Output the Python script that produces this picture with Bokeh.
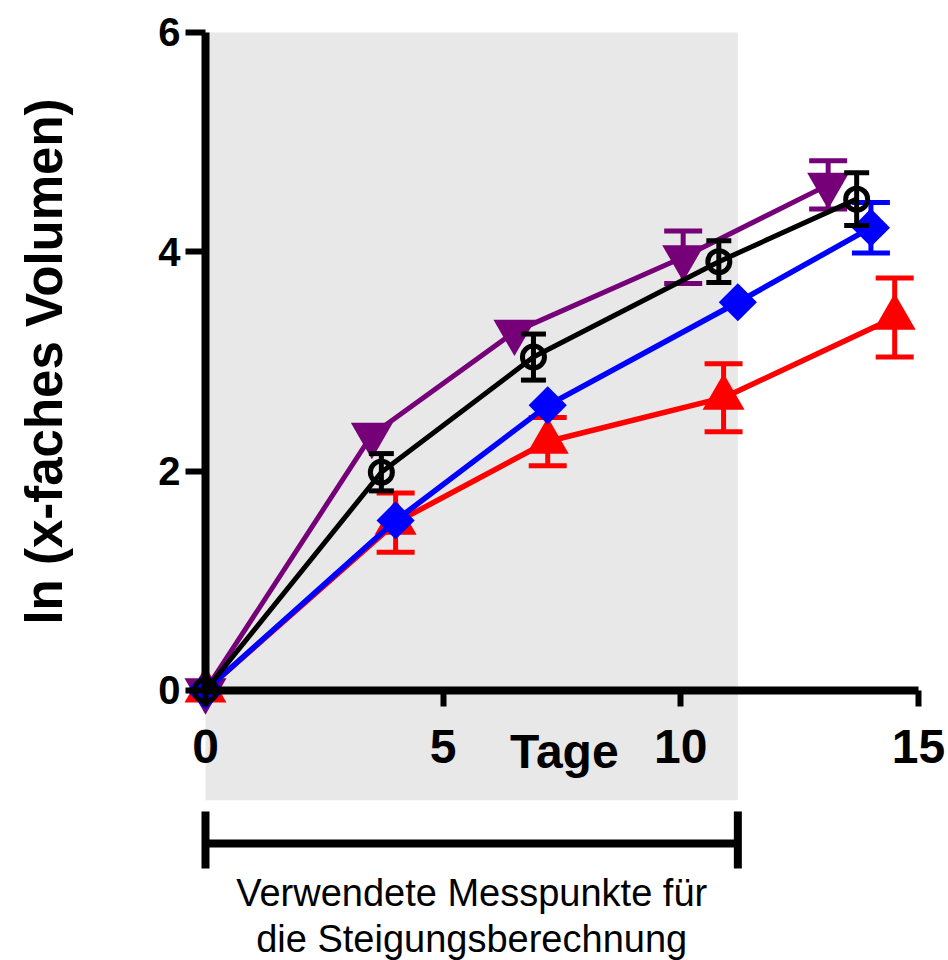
import math
from bokeh.plotting import figure
from bokeh.models import Range1d
from bokeh.embed import file_html
from bokeh.resources import INLINE
from bokeh.core.properties import value

# ---- data ----
days_red = [0, 4.0, 7.2, 10.9, 14.5]
lnvol_red = [0, 1.53, 2.27, 2.67, 3.40]
sem_red = [0, 0.27, 0.22, 0.31, 0.36]

days_purple = [0, 3.5, 6.5, 10.05, 13.1]
lnvol_purple = [0, 2.33, 3.27, 3.95, 4.61]
sem_purple = [0, 0, 0, 0.24, 0.22]

days_blue = [0, 4.0, 7.2, 11.2, 14.0]
lnvol_blue = [0, 1.55, 2.60, 3.54, 4.22]
sem_blue = [0, 0, 0, 0, 0.23]

days_black = [0, 3.7, 6.9, 10.8, 13.7]
lnvol_black = [0, 1.99, 3.04, 3.91, 4.48]
sem_black = [0, 0.17, 0.21, 0.19, 0.24]

fit_window = [0, 11.2]          # days used for the slope calculation
x_ticks = [0, 5, 10, 15]
y_ticks = [0, 2, 4, 6]
x_label = "Tage"
y_label = "ln (x-faches Volumen)"
note_lines = ["Verwendete Messpunkte für", "die Steigungsberechnung"]

FONT = "Liberation Sans"

p = figure(frame_width=946, frame_height=950,
           x_range=Range1d(-4.313, 15.59), y_range=Range1d(-2.462, 6.2),
           output_backend="svg", toolbar_location=None,
           min_border_left=0, min_border_right=2,
           min_border_top=10, min_border_bottom=0)
p.outline_line_color = None
p.xgrid.visible = False
p.ygrid.visible = False
p.background_fill_color = "white"
p.border_fill_color = "white"

# shaded window of the fit
p.quad(left=[fit_window[0]], right=[fit_window[1]], bottom=[-1.0], top=[6.0],
       fill_color="#e8e8e8", line_color=None)

# axes through the origin
for ax, bnds, ticks in ((p.xaxis[0], (0, 15), x_ticks), (p.yaxis[0], (0, 6), y_ticks)):
    ax.fixed_location = 0
    ax.bounds = bnds
    ax.ticker = ticks
    ax.axis_line_width = 8
    ax.axis_line_color = "black"
    ax.major_tick_line_width = 6
    ax.major_tick_line_color = "black"
    ax.major_tick_in = 0
    ax.minor_tick_line_color = None
    ax.major_label_text_font = FONT
    ax.major_label_text_font_style = "bold"
    ax.major_label_text_color = "black"

p.xaxis.major_tick_out = 16
p.xaxis.major_label_text_font_size = "48px"
p.xaxis.major_label_standoff = 24
p.yaxis.major_tick_out = 20
p.yaxis.major_label_text_font_size = "40px"
p.yaxis.major_label_standoff = 5
p.yaxis.axis_label = y_label
p.yaxis.axis_label_text_font = FONT
p.yaxis.axis_label_text_font_style = "bold"
p.yaxis.axis_label_text_font_size = "51px"
p.yaxis.axis_label_text_color = "black"
p.yaxis.axis_label_standoff = 82

# x axis title placed in the tick-label row
p.text(x=[7.55], y=[-0.56], text=[x_label], text_font=value(FONT),
       text_font_style="bold", text_font_size="48px", text_align="center",
       text_baseline="alphabetic", text_color="black")

# bracket marking the fit window
p.segment(x0=[fit_window[0]], y0=[-1.395], x1=[fit_window[1]], y1=[-1.395],
          line_width=8, line_color="black")
p.segment(x0=fit_window, y0=[-1.103, -1.103], x1=fit_window, y1=[-1.623, -1.623],
          line_width=8, line_color="black")
cx = (fit_window[0] + fit_window[1]) / 2
p.text(x=[cx, cx], y=[-1.85, -2.27], text=note_lines, text_font=value(FONT),
       text_font_size="38px", text_align="center", text_baseline="alphabetic",
       text_color="black")


def series(xs, ys, errs, color, marker, size, cap, fill=True, angle=0.0, lw=5.5):
    p.line(xs, ys, line_width=lw, line_color=color)
    ex = [x for x, e in zip(xs, errs) if e > 0]
    lo = [y - e for y, e in zip(ys, errs) if e > 0]
    hi = [y + e for y, e in zip(ys, errs) if e > 0]
    if ex:
        p.segment(x0=ex, y0=lo, x1=ex, y1=hi, line_width=5, line_color=color)
        p.scatter(ex, lo, marker="dash", size=cap, line_width=5, line_color=color)
        p.scatter(ex, hi, marker="dash", size=cap, line_width=5, line_color=color)
    if fill:
        p.scatter(xs, ys, marker=marker, size=size, fill_color=color,
                  line_color=None, angle=angle)
    else:
        p.scatter(xs, ys, marker=marker, size=size, fill_color=None,
                  line_color=color, line_width=5, angle=angle)


series(days_red, lnvol_red, sem_red, "#ff0000", "triangle", 42, 38)
series(days_purple, lnvol_purple, sem_purple, "#750078", "inverted_triangle", 42, 38, lw=5)
series(days_blue, lnvol_blue, sem_blue, "#0000ff", "square", 27, 38, angle=math.pi / 4)
series(days_black, lnvol_black, sem_black, "#000000", "circle", 22, 25, fill=False, lw=5)

open("out.html", "w").write(file_html(p, INLINE))
